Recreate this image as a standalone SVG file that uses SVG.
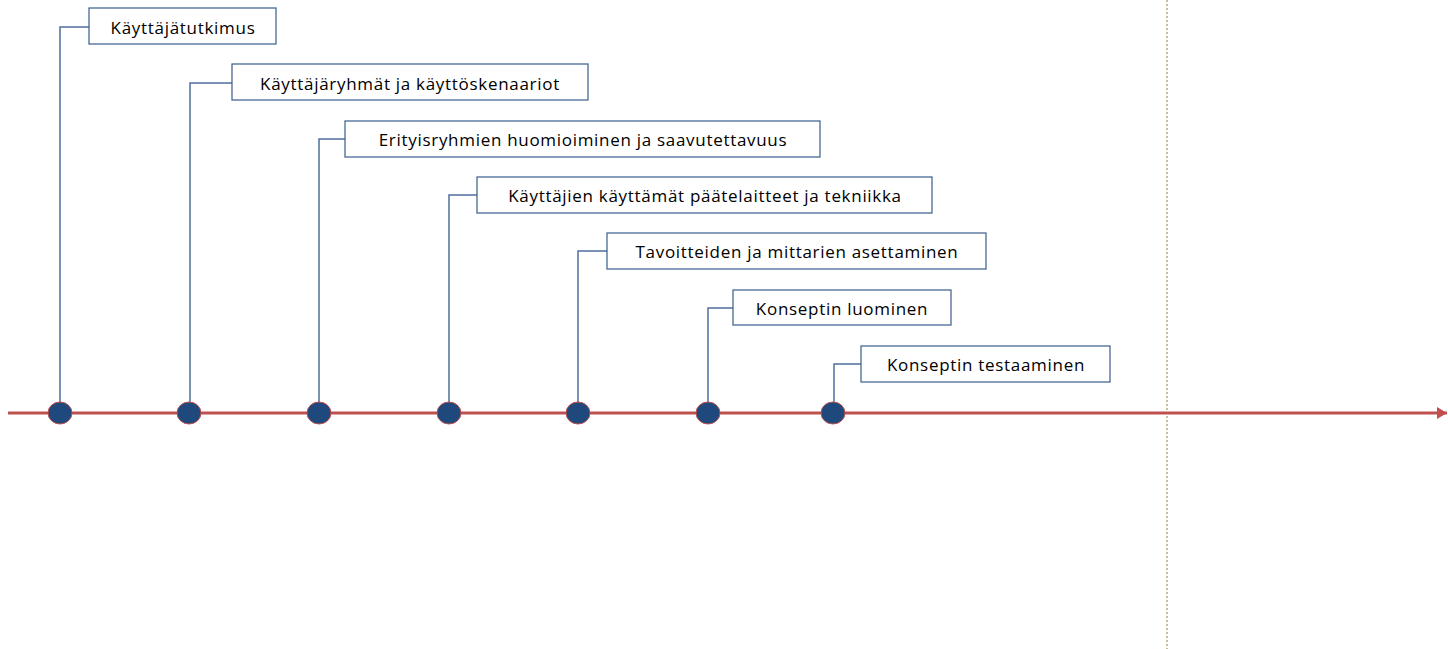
<svg xmlns="http://www.w3.org/2000/svg" width="1448" height="649" viewBox="0 0 1448 649">
<defs>
<style>
.box{fill:#fff;stroke:#385D8A;stroke-width:1.2}
.lbl{font-family:"Open Sans","Liberation Sans",sans-serif;font-size:17px;letter-spacing:0.7px;fill:#000;text-anchor:middle;dominant-baseline:central}
.con{fill:none;stroke:#4F6F9F;stroke-width:1.5}
.dot{fill:#1F497D;stroke:#C0504D;stroke-width:1}
</style>
<marker id="arr" markerWidth="12" markerHeight="12" refX="10" refY="6" orient="auto" markerUnits="userSpaceOnUse">
<path d="M0,0 L10,6 L0,12 Z" fill="#C0504D"/>
</marker>
</defs>
<rect width="1448" height="649" fill="#fff"/>
<line x1="1167" y1="0" x2="1167" y2="649" stroke="#C4BD97" stroke-width="2" stroke-dasharray="2,2"/>
<g id="connectors">
<polyline class="con" points="60,413 60,27 89,27"/>
<polyline class="con" points="190,413 190,83 232,83"/>
<polyline class="con" points="319,413 319,139 345,139"/>
<polyline class="con" points="449,413 449,195 477,195"/>
<polyline class="con" points="578,413 578,251 607,251"/>
<polyline class="con" points="708,413 708,308 733,308"/>
<polyline class="con" points="834,413 834,364 861,364"/>
<line x1="8" y1="413" x2="1447" y2="413" stroke="#C0504D" stroke-width="3" marker-end="url(#arr)"/>
</g>
<g id="n1"><rect class="box" x="89" y="8" width="187" height="36"/><text class="lbl" x="183" y="27">Käyttäjätutkimus</text><ellipse class="dot" cx="60" cy="413" rx="12" ry="11"/></g>
<g id="n2"><rect class="box" x="232" y="64" width="356" height="36"/><text class="lbl" x="410" y="83">Käyttäjäryhmät ja käyttöskenaariot</text><ellipse class="dot" cx="189" cy="413" rx="12" ry="11"/></g>
<g id="n3"><rect class="box" x="345" y="121" width="475" height="36"/><text class="lbl" x="583" y="139">Erityisryhmien huomioiminen ja saavutettavuus</text><ellipse class="dot" cx="319" cy="413" rx="12" ry="11"/></g>
<g id="n4"><rect class="box" x="477" y="177" width="455" height="36"/><text class="lbl" x="705" y="195">Käyttäjien käyttämät päätelaitteet ja tekniikka</text><ellipse class="dot" cx="449" cy="413" rx="12" ry="11"/></g>
<g id="n5"><rect class="box" x="607" y="233" width="379" height="36"/><text class="lbl" x="797" y="251">Tavoitteiden ja mittarien asettaminen</text><ellipse class="dot" cx="578" cy="413" rx="12" ry="11"/></g>
<g id="n6"><rect class="box" x="733" y="290" width="218" height="35"/><text class="lbl" x="842" y="308">Konseptin luominen</text><ellipse class="dot" cx="708" cy="413" rx="12" ry="11"/></g>
<g id="n7"><rect class="box" x="861" y="346" width="249" height="36"/><text class="lbl" x="986" y="364">Konseptin testaaminen</text><ellipse class="dot" cx="833" cy="413" rx="12" ry="11"/></g>
</svg>
